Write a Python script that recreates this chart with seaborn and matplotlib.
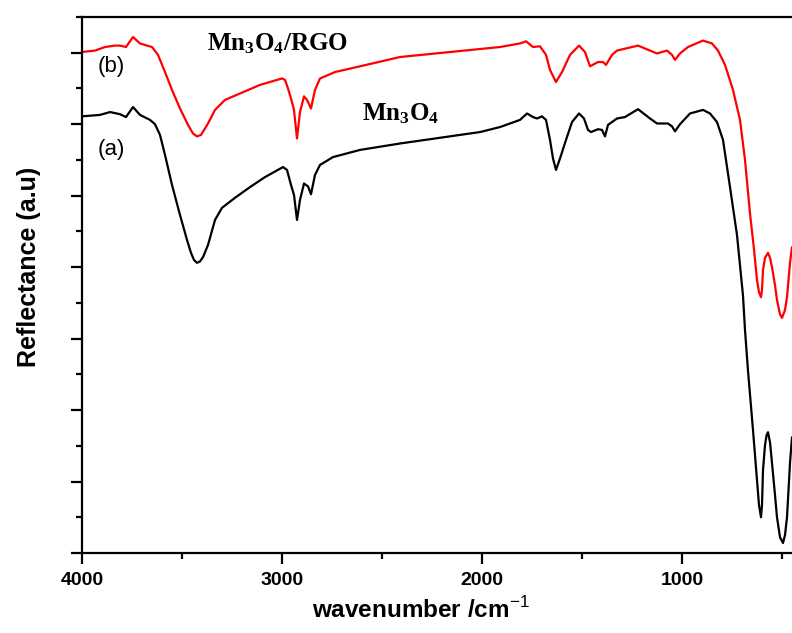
import numpy as np
import pandas as pd
import matplotlib
matplotlib.use('Agg')
import matplotlib.pyplot as plt
from matplotlib.ticker import MultipleLocator, NullFormatter
import seaborn as sns

# spectrum (a): Mn3O4  (wavenumber, reflectance a.u.)
wn_a = [4000, 3910, 3860, 3810, 3780, 3745, 3710, 3660, 3635, 3610, 3585, 3550,
        3510, 3475, 3455, 3440, 3425, 3410, 3395, 3370, 3335, 3300, 3235, 3160,
        3085, 2995, 2975, 2955, 2940, 2925, 2910, 2890, 2870, 2855, 2835, 2810,
        2745, 2610, 2410, 2160, 2010, 1910, 1810, 1775, 1745, 1725, 1700, 1680,
        1660, 1645, 1630, 1610, 1580, 1550, 1515, 1490, 1470, 1455, 1420, 1400,
        1385, 1370, 1325, 1285, 1220, 1160, 1125, 1070, 1050, 1035, 1010, 960,
        895, 860, 825, 795, 760, 725, 695, 685, 670, 645, 625, 615, 605, 600,
        595, 585, 577, 570, 560, 550, 535, 525, 510, 495, 485, 475, 460, 450]
refl_a = [6.11, 6.13, 6.17, 6.14, 6.10, 6.24, 6.13, 6.06, 6.00, 5.85, 5.57, 5.15,
          4.73, 4.38, 4.20, 4.10, 4.06, 4.08, 4.14, 4.31, 4.66, 4.83, 4.97, 5.12,
          5.26, 5.40, 5.36, 5.15, 5.01, 4.66, 4.94, 5.17, 5.13, 5.02, 5.29, 5.43,
          5.54, 5.64, 5.73, 5.83, 5.89, 5.96, 6.06, 6.15, 6.10, 6.08, 6.11, 6.06,
          5.78, 5.52, 5.36, 5.52, 5.78, 6.03, 6.15, 6.08, 5.92, 5.89, 5.93, 5.92,
          5.83, 5.99, 6.08, 6.10, 6.21, 6.08, 6.01, 6.01, 5.97, 5.90, 6.00, 6.15,
          6.20, 6.15, 6.03, 5.78, 5.12, 4.45, 3.60, 3.12, 2.55, 1.72, 1.02, 0.67,
          0.50, 0.67, 1.16, 1.51, 1.65, 1.69, 1.55, 1.26, 0.81, 0.50, 0.22, 0.14,
          0.25, 0.50, 1.26, 1.62]

# spectrum (b): Mn3O4/RGO
wn_b = [4000, 3935, 3885, 3835, 3810, 3780, 3745, 3710, 3675, 3650, 3620, 3585,
        3550, 3510, 3470, 3445, 3425, 3405, 3370, 3335, 3285, 3210, 3110, 3000,
        2985, 2970, 2955, 2940, 2925, 2910, 2890, 2875, 2855, 2835, 2810, 2735,
        2610, 2410, 2160, 1910, 1810, 1780, 1745, 1710, 1680, 1660, 1630, 1600,
        1560, 1515, 1485, 1460, 1420, 1395, 1380, 1350, 1325, 1220, 1160, 1125,
        1075, 1050, 1035, 1010, 970, 895, 850, 820, 785, 745, 710, 685, 660,
        640, 625, 615, 605, 600, 595, 585, 570, 560, 550, 535, 525, 510, 500,
        485, 475, 460, 450]
refl_b = [7.01, 7.03, 7.08, 7.10, 7.10, 7.08, 7.22, 7.13, 7.10, 7.08, 6.97, 6.73,
          6.48, 6.22, 5.99, 5.87, 5.83, 5.85, 6.01, 6.20, 6.34, 6.43, 6.55, 6.64,
          6.62, 6.50, 6.36, 6.20, 5.80, 6.17, 6.39, 6.34, 6.22, 6.48, 6.64, 6.73,
          6.81, 6.94, 7.01, 7.08, 7.13, 7.16, 7.08, 7.09, 6.97, 6.76, 6.59, 6.73,
          6.97, 7.10, 7.01, 6.81, 6.87, 6.87, 6.83, 6.97, 7.03, 7.10, 7.03, 6.99,
          7.03, 6.97, 6.90, 6.99, 7.08, 7.17, 7.13, 7.03, 6.83, 6.48, 6.06, 5.50,
          4.75, 4.25, 3.82, 3.65, 3.58, 3.68, 3.96, 4.13, 4.20, 4.13, 4.00, 3.75,
          3.54, 3.34, 3.29, 3.40, 3.58, 4.06, 4.28]

df_a = pd.DataFrame({'wavenumber': wn_a, 'reflectance': refl_a})
df_b = pd.DataFrame({'wavenumber': wn_b, 'reflectance': refl_b})

sns.set_style('ticks')
plt.rcParams['font.family'] = ['Liberation Sans', 'DejaVu Sans']
plt.rcParams['text.color'] = 'black'
plt.rcParams['axes.labelcolor'] = 'black'
plt.rcParams['xtick.color'] = 'black'
plt.rcParams['ytick.color'] = 'black'
plt.rcParams['mathtext.fontset'] = 'custom'
plt.rcParams['mathtext.rm'] = 'Liberation Sans'
plt.rcParams['mathtext.bf'] = 'Liberation Serif:bold'

fig = plt.figure(figsize=(7.92, 6.33), dpi=100)
ax = fig.add_axes([82 / 792, 1 - 553 / 633, 1 - 82 / 792, (553 - 17) / 633])

sns.lineplot(data=df_a, x='wavenumber', y='reflectance', ax=ax, color='black',
             linewidth=1.6, estimator=None, sort=False)
sns.lineplot(data=df_b, x='wavenumber', y='reflectance', ax=ax, color='#ff0000',
             linewidth=1.6, estimator=None, sort=False)

ax.set_xlim(4000, 450)
ax.set_ylim(0, 7.5)

ax.xaxis.set_major_locator(MultipleLocator(1000))
ax.xaxis.set_minor_locator(MultipleLocator(500))
ax.yaxis.set_major_locator(MultipleLocator(1))
ax.yaxis.set_minor_locator(MultipleLocator(0.5))
ax.yaxis.set_major_formatter(NullFormatter())

ax.tick_params(which='major', direction='out', length=8, width=1.6, pad=6,
               labelsize=14, colors='black')
ax.tick_params(which='minor', direction='out', length=4.5, width=1.6,
               colors='black')
for lab in ax.get_xticklabels():
    lab.set_fontweight('bold')

for side in ['left', 'bottom', 'top']:
    ax.spines[side].set_linewidth(1.6)
    ax.spines[side].set_color('black')
ax.spines['right'].set_visible(False)

ax.set_xlabel(r'wavenumber /cm$^{\mathrm{-1}}$', fontsize=17.5, fontweight='bold')
ax.set_ylabel('Reflectance (a.u)', fontsize=18, fontweight='bold')
ax.xaxis.set_label_coords(0.477, -0.082)
ax.yaxis.set_label_coords(-0.058, 0.534)

ax.text(3920, 6.73, '(b)', fontsize=16)
ax.text(3920, 5.57, '(a)', fontsize=16)
ax.text(3375, 7.03, r'$\mathbf{Mn_3O_4/RGO}$', fontsize=18)
ax.text(2600, 6.06, r'$\mathbf{Mn_3O_4}$', fontsize=18)

fig.savefig('out.png', dpi=100)
